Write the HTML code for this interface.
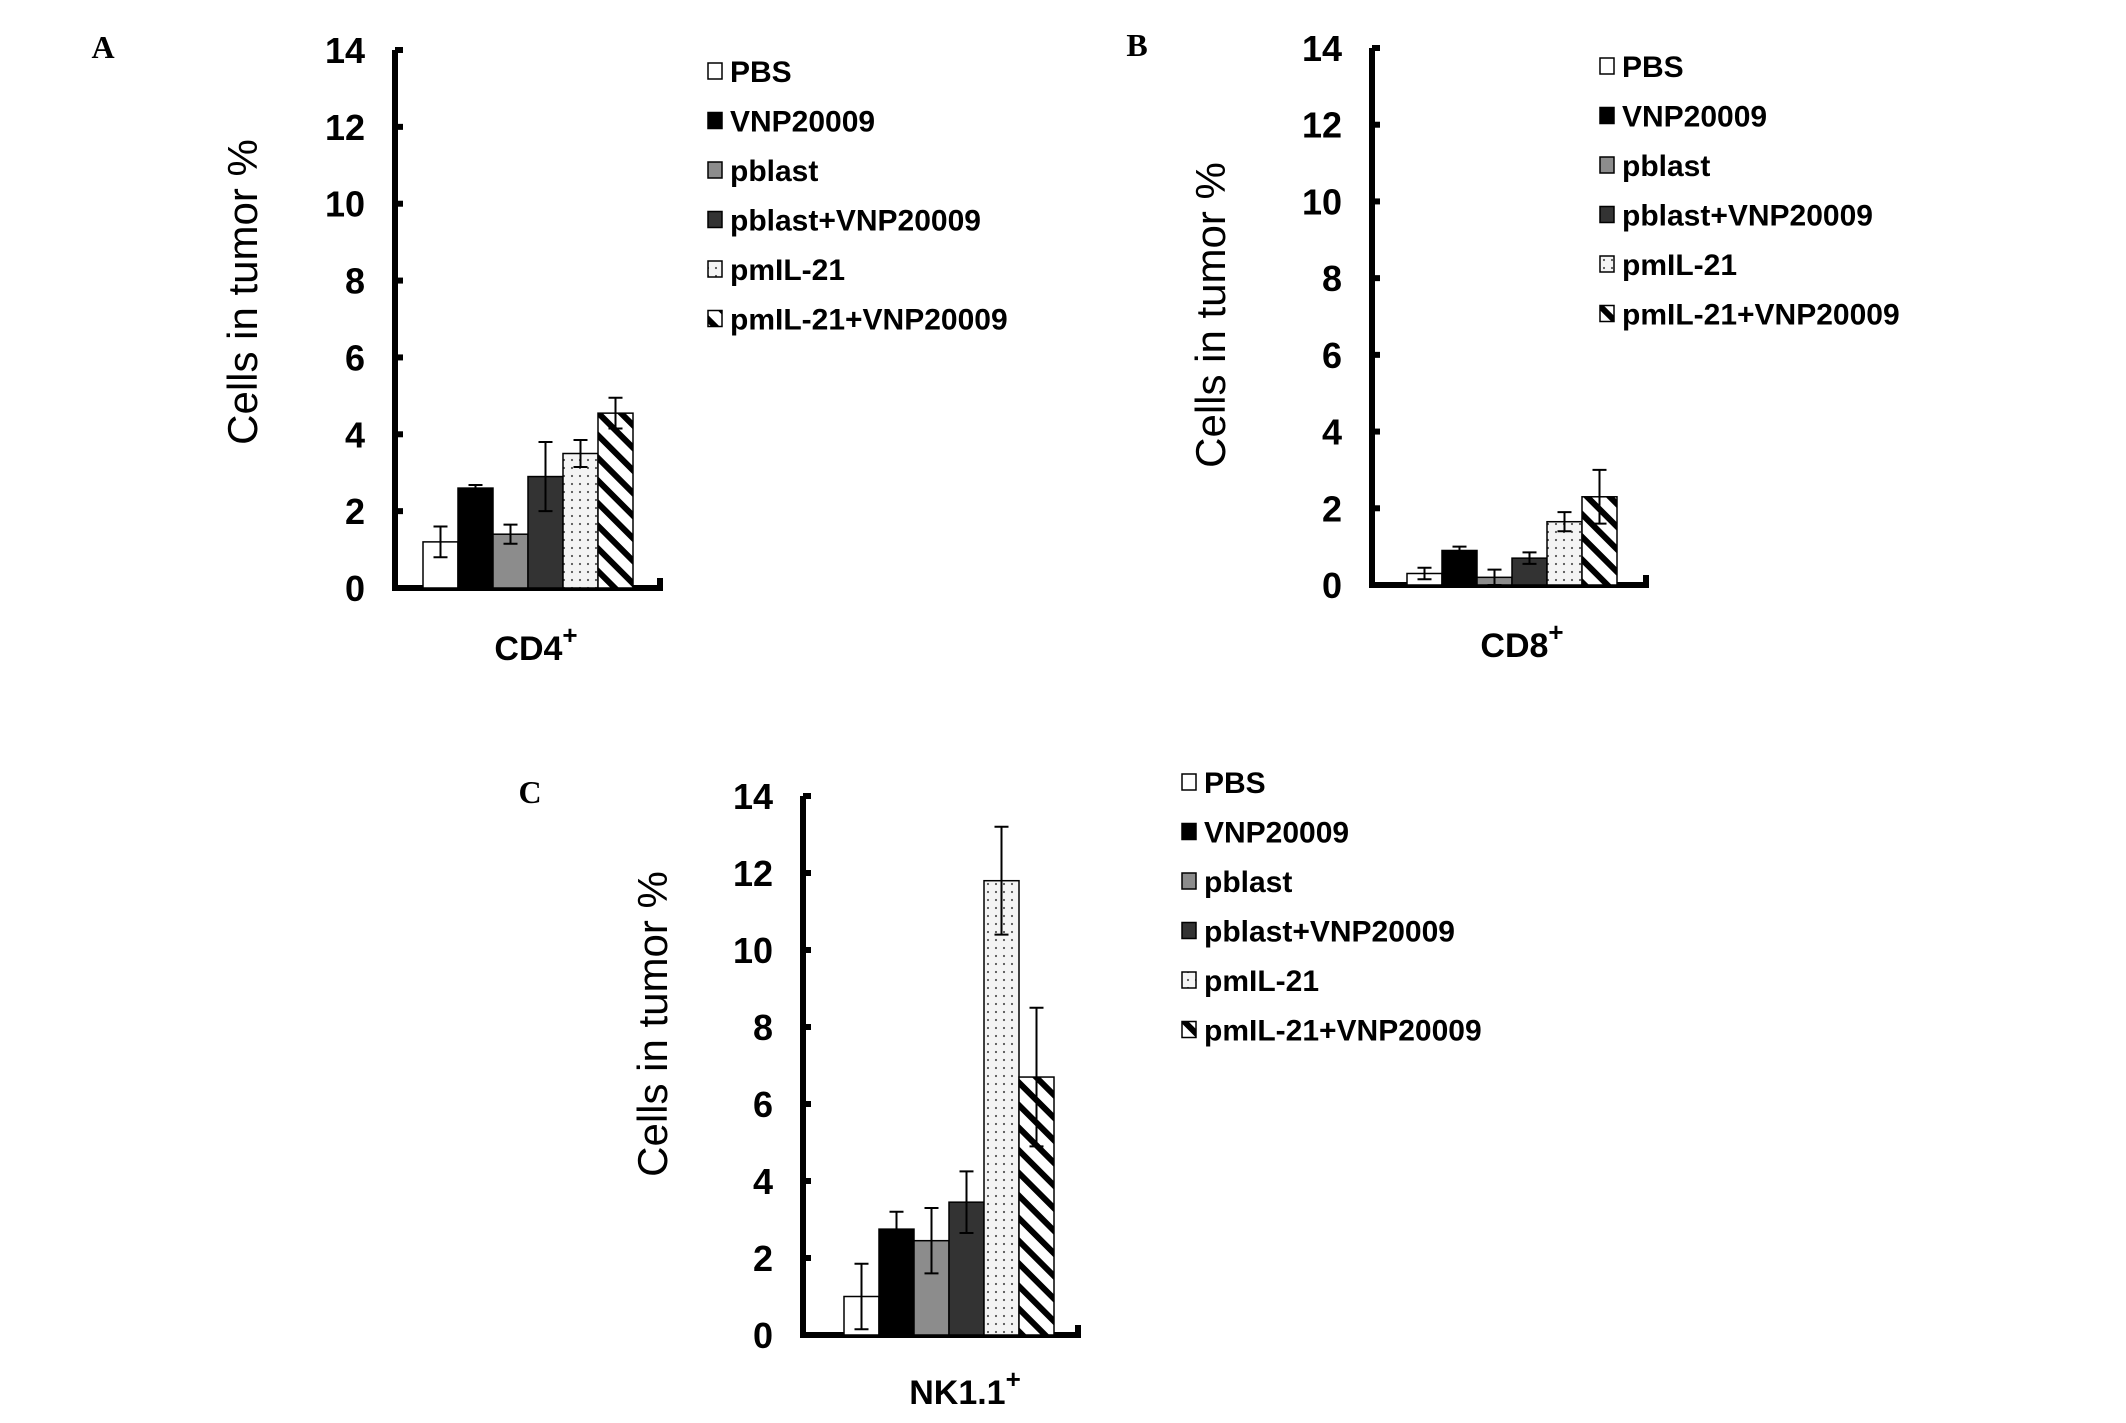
<!DOCTYPE html>
<html><head><meta charset="utf-8"><style>
html,body{margin:0;padding:0;background:#fff;}
svg{display:block;}
text{font-family:"Liberation Sans",sans-serif;}
</style></head><body>
<svg id="fig" width="2126" height="1423" viewBox="0 0 2126 1423" xmlns="http://www.w3.org/2000/svg">
<defs>
<pattern id="dots" width="8" height="8" patternUnits="userSpaceOnUse"><rect width="8" height="8" fill="#f4f4f4"/><circle cx="4" cy="4" r="1.1" fill="#555"/></pattern>
<pattern id="hatch" width="16" height="16" patternUnits="userSpaceOnUse" patternTransform="rotate(-45)"><rect width="16" height="16" fill="#fff"/><rect x="0" y="0" width="6" height="16" fill="#000"/></pattern>
</defs>
<text x="103" y="58" font-weight="bold" font-size="32" text-anchor="middle" style="font-family:'Liberation Serif',serif">A</text>
<text x="1137" y="56" font-weight="bold" font-size="32" text-anchor="middle" style="font-family:'Liberation Serif',serif">B</text>
<text x="530" y="803" font-weight="bold" font-size="32" text-anchor="middle" style="font-family:'Liberation Serif',serif">C</text>
</svg>
<script>
const groups = ["PBS","VNP20009","pblast","pblast+VNP20009","pmIL-21","pmIL-21+VNP20009"];
const yTicks = [0,2,4,6,8,10,12,14];
const cd4Values = [1.2,2.6,1.4,2.9,3.5,4.55];
const cd4Errors = [0.4,0.08,0.25,0.9,0.35,0.4];
const cd8Values = [0.3,0.9,0.2,0.7,1.65,2.3];
const cd8Errors = [0.15,0.1,0.2,0.15,0.25,0.7];
const nkValues = [1.0,2.75,2.45,3.45,11.8,6.7];
const nkErrors = [0.85,0.45,0.85,0.8,1.4,1.8];

const fills = ["#fff","#000","#8c8c8c","#333","url(#dots)","url(#hatch)"];
const NS = "http://www.w3.org/2000/svg";
const svg = document.getElementById('fig');
function mk(tag, attrs, parent){const e=document.createElementNS(NS,tag);for(const k in attrs)e.setAttribute(k,attrs[k]);(parent||svg).appendChild(e);return e;}

function panel(cfg, values, errors){
  const g = mk('g',{});
  
  
  const y = v => cfg.y0 - (cfg.y0-cfg.yTop)*v/14;
  const ax = mk('path',{d:`M${cfg.x0},${y(14)} V${cfg.y0} H${cfg.xEnd} v-10`,fill:'none',stroke:'#000','stroke-width':6},g);
  
  
  yTicks.forEach(t=>{
    const tk = mk('line',{x1:cfg.x0,x2:cfg.x0+8,y1:y(t),y2:y(t),stroke:'#000','stroke-width':6},g);
    
    
    const tl = mk('text',{x:cfg.x0-30,y:y(t)+13,'font-size':36,'font-weight':'bold','text-anchor':'end'},g);
    tl.textContent = t;
    
    
  });
  const yt = mk('text',{x:0,y:0,'font-size':42,'text-anchor':'middle',transform:`translate(${cfg.titleX+12},${cfg.titleY}) rotate(-90)`},g);
  yt.textContent = 'Cells in tumor %';
  
  
  const bw = 35;
  values.forEach((v,i)=>{
    const bx = cfg.barX + i*bw;
    const r = mk('rect',{x:bx,y:y(v),width:bw,height:cfg.y0-y(v),fill:fills[i],stroke:'#000','stroke-width':1.5},g);
    
    
    const cx = bx+bw/2, e = errors[i];
    const eb = mk('path',{d:`M${cx},${y(v-e)} V${y(v+e)} M${cx-7},${y(v+e)} h14 M${cx-7},${y(v-e)} h14`,stroke:'#000','stroke-width':2,fill:'none'},g);
    
    
  });
  const xl = mk('text',{x:cfg.labelX,y:cfg.labelY+12,'font-size':34,'font-weight':'bold','text-anchor':'middle'},g);
  xl.textContent = cfg.label;
  const sup = mk('tspan',{dy:-16,'font-size':26},xl);
  sup.textContent = '+';
  
  
  groups.forEach((name,i)=>{
    const ly = cfg.legY + i*49.5;
    const lg = mk('g',{},g);
    
    
    mk('rect',{x:cfg.legX,y:ly-8,width:14,height:16,fill:fills[i],stroke:'#000','stroke-width':1.5},lg);
    const t = mk('text',{x:cfg.legX+22,y:ly+11,'font-size':30,'font-weight':'bold'},lg);
    t.textContent = name;
  });
}
panel({id:'cd4',x0:395,yTop:50,y0:588,xEnd:660,barX:423,titleX:245,titleY:292,labelX:536,labelY:648,label:'CD4',legX:708,legY:71},cd4Values,cd4Errors);
panel({id:'cd8',x0:1372,yTop:48,y0:585,xEnd:1646,barX:1407,titleX:1213,titleY:315,labelX:1522,labelY:645,label:'CD8',legX:1600,legY:66},cd8Values,cd8Errors);
panel({id:'nk',x0:803,yTop:796,y0:1335,xEnd:1078,barX:844,titleX:655,titleY:1024,labelX:965,labelY:1392,label:'NK1.1',legX:1182,legY:782},nkValues,nkErrors);
</script>
</body></html>
